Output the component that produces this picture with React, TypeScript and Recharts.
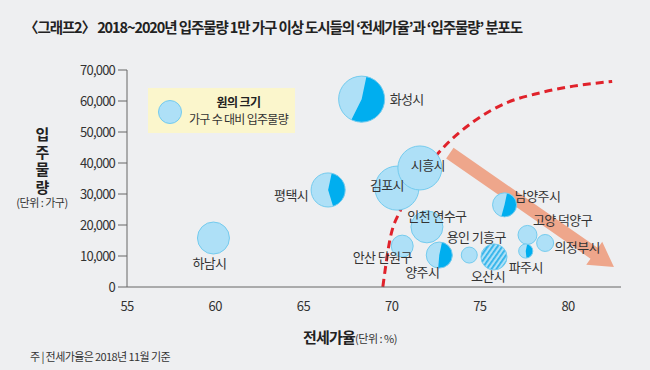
import React from 'react';
import { ComposedChart, Scatter, Line, XAxis, YAxis, ZAxis, ReferenceLine } from 'recharts';

// 도시별 전세가율(%), 입주물량(가구), 가구 수 대비 입주물량(%), 진한 부분 비율
const cities = ['화성시', '평택시', '김포시', '시흥시', '인천 연수구', '안산 단원구', '양주시', '용인 기흥구', '오산시', '남양주시', '고양 덕양구', '파주시', '의정부시', '하남시'];
const jeonseRate = [68.3, 66.4, 70.3, 71.6, 72.0, 70.6, 72.7, 74.4, 75.8, 76.4, 77.7, 77.6, 78.7, 59.9];
const supply = [60600, 31300, 31900, 38400, 19400, 13200, 10300, 10300, 9700, 26500, 16800, 11600, 14200, 15800];
const supplyRatio = [26.5, 14.5, 24.2, 24.2, 12.8, 6.0, 8.5, 3.2, 8.5, 7.2, 4.5, 2.5, 3.6, 12.8];
const darkShare = [0.54, 0.42, 0, 0, 0, 0, 0.48, 0, 0, 0.51, 0, 0.45, 0, 0];
const hatchedCities = ['오산시'];

// 점선 곡선 (전세가율, 입주물량)
const curveX = [69.5, 69.9, 70.5, 71.6, 72.9, 74.6, 76.5, 78.4, 80.3, 82.5];
const curveY = [0, 15200, 24800, 35500, 44800, 53200, 59400, 62600, 64800, 66300];

// 화살표 시작/끝
const arrowX = [73.3, 82.6];
const arrowY = [43200, 6450];

const xTicks = [55, 60, 65, 70, 75, 80];
const yTicks = [0, 10000, 20000, 30000, 40000, 50000, 60000, 70000];

const bubbles = cities.map((name, i) => ({
  name,
  x: jeonseRate[i],
  y: supply[i],
  z: supplyRatio[i],
  share: darkShare[i],
  hatched: hatchedCities.includes(name),
}));
const curve = curveX.map((x, i) => ({ x, y: curveY[i] }));

// label placement relative to bubble centre
const labelPos: Record<string, [number, number, string]> = {
  '화성시': [28, 0, 'start'],
  '평택시': [-20, 5, 'end'],
  '김포시': [-10, -3, 'middle'],
  '시흥시': [8, -3, 'middle'],
  '인천 연수구': [10, -10, 'middle'],
  '안산 단원구': [-20, 11, 'middle'],
  '양주시': [-17, 17, 'middle'],
  '용인 기흥구': [7, -18, 'middle'],
  '오산시': [-6, 20, 'middle'],
  '남양주시': [33, -8, 'middle'],
  '고양 덕양구': [35, -14, 'middle'],
  '파주시': [0, 16, 'middle'],
  '의정부시': [32, 4, 'middle'],
  '하남시': [-4, 25, 'middle'],
};

const LIGHT = '#aee0f7';
const DARK = '#00aeef';
const EDGE = '#74cbee';
const FONT = '"Noto Sans CJK KR", "Noto Sans", sans-serif';

const Bubble = (props: any) => {
  const { cx, cy, width, size, payload } = props;
  const r = width ? width / 2 : Math.sqrt(size / Math.PI);
  const fill = payload.hatched ? 'url(#hatch)' : LIGHT;
  let wedge = null;
  if (payload.share > 0) {
    const a0 = (12 * Math.PI) / 180;
    const a1 = a0 + payload.share * 2 * Math.PI;
    const p0 = [cx + r * Math.sin(a0), cy - r * Math.cos(a0)];
    const p1 = [cx + r * Math.sin(a1), cy - r * Math.cos(a1)];
    const large = payload.share > 0.5 ? 1 : 0;
    wedge = (
      <path d={`M${cx},${cy} L${p0[0]},${p0[1]} A${r},${r} 0 ${large} 1 ${p1[0]},${p1[1]} Z`} fill={DARK} />
    );
  }
  return (
    <g>
      {payload.hatched && (
        <defs>
          <pattern id="hatch" patternUnits="userSpaceOnUse" width="4" height="4" patternTransform="rotate(35)">
            <rect width="4" height="4" fill={LIGHT} />
            <rect width="1.8" height="4" fill="#2fb3ea" />
          </pattern>
        </defs>
      )}
      <circle cx={cx} cy={cy} r={r} fill={fill} />
      {wedge}
      <circle cx={cx} cy={cy} r={r} fill="none" stroke={EDGE} strokeWidth={1} />
    </g>
  );
};

const CityLabel = (props: any) => {
  const { cx, cy, payload } = props;
  const [dx, dy, anchor] = labelPos[payload.name] || [0, 0, 'middle'];
  return (
    <text x={cx + dx} y={cy + dy} dy="0.35em" textAnchor={anchor as any} fontSize={13} fill="#333" fontFamily={FONT} letterSpacing={-0.6}>
      {payload.name}
    </text>
  );
};

const Arrow = (props: any) => {
  const { x1, y1, x2, y2 } = props;
  const dx = x2 - x1;
  const dy = y2 - y1;
  const len = Math.sqrt(dx * dx + dy * dy);
  const ux = dx / len;
  const uy = dy / len;
  const nx = -uy;
  const ny = ux;
  const headLen = 24;
  const bodyW = 6.5;
  const headW = 14;
  const bx = x2 - ux * headLen;
  const by = y2 - uy * headLen;
  const pts = [
    [x1 + nx * bodyW, y1 + ny * bodyW],
    [bx + nx * bodyW, by + ny * bodyW],
    [bx + nx * headW, by + ny * headW],
    [x2, y2],
    [bx - nx * headW, by - ny * headW],
    [bx - nx * bodyW, by - ny * bodyW],
    [x1 - nx * bodyW, y1 - ny * bodyW],
  ];
  return <polygon points={pts.map((p) => p.join(',')).join(' ')} fill="#eea68b" />;
};

export default function App() {
  return (
    <div style={{ position: 'absolute', left: 0, top: 0, width: 650, height: 370, background: '#eeeff1', fontFamily: FONT, color: '#222', overflow: 'hidden' }}>
      <div style={{ position: 'absolute', left: 24, top: 16, fontSize: 14.5, fontWeight: 700, letterSpacing: -1.1, whiteSpace: 'nowrap' }}>
        〈그래프2〉 2018~2020년 입주물량 1만 가구 이상 도시들의 ‘전세가율’과 ‘입주물량’ 분포도
      </div>
      <ComposedChart width={650} height={370} margin={{ top: 70, right: 29, bottom: 53, left: 67 }}>
        <XAxis
          type="number"
          dataKey="x"
          domain={[55, 83]}
          ticks={xTicks}
          height={30}
          axisLine={{ stroke: '#666' }}
          tickLine={false}
          tickSize={0}
          tickMargin={15}
          tick={{ fontSize: 13, fill: '#333', fontFamily: FONT, letterSpacing: -0.6 }}
        />
        <YAxis
          type="number"
          dataKey="y"
          domain={[0, 70000]}
          ticks={yTicks}
          width={60}
          axisLine={{ stroke: '#666' }}
          tickLine={{ stroke: '#666' }}
          tickSize={9}
          tickMargin={3}
          tickFormatter={(v: number) => v.toLocaleString('en-US')}
          tick={{ fontSize: 13, fill: '#333', fontFamily: FONT, letterSpacing: -0.8 }}
        />
        <ZAxis type="number" dataKey="z" domain={[0, 30]} range={[0, 1885]} />
        <ReferenceLine
          segment={[
            { x: arrowX[0], y: arrowY[0] },
            { x: arrowX[1], y: arrowY[1] },
          ]}
          shape={Arrow}
        />
        <Scatter data={bubbles} shape={Bubble} isAnimationActive={false} />
        <Line
          data={curve}
          dataKey="y"
          type="monotone"
          stroke="#e0222b"
          strokeWidth={3}
          strokeDasharray="8 5"
          dot={false}
          activeDot={false}
          isAnimationActive={false}
        />
        <Scatter data={bubbles} shape={CityLabel} isAnimationActive={false} />
      </ComposedChart>

      {/* legend */}
      <div style={{ position: 'absolute', left: 148, top: 88, width: 147, height: 45, background: '#fbf6cc' }}>
        <div style={{ position: 'absolute', left: 10, top: 12, width: 22, height: 22, borderRadius: '50%', background: LIGHT, border: `1px solid ${EDGE}` }} />
        <div style={{ position: 'absolute', left: 38, width: 105, top: 6, textAlign: 'center', fontSize: 12, fontWeight: 700, letterSpacing: -0.6, lineHeight: '16px' }}>원의 크기</div>
        <div style={{ position: 'absolute', left: 38, width: 105, top: 23, textAlign: 'center', fontSize: 12, letterSpacing: -0.7, lineHeight: '16px', color: '#333' }}>가구 수 대비 입주물량</div>
      </div>

      {/* y axis title */}
      <div style={{ position: 'absolute', left: 31, top: 127, width: 22, fontSize: 15, fontWeight: 700, writingMode: 'vertical-rl', textOrientation: 'upright', letterSpacing: 2.5, lineHeight: '22px' }}>
        입주물량
      </div>
      <div style={{ position: 'absolute', left: 2, top: 194, width: 80, textAlign: 'center', fontSize: 11, letterSpacing: -0.5, color: '#333' }}>(단위 : 가구)</div>

      {/* x axis title */}
      <div style={{ position: 'absolute', left: 250, width: 200, top: 324, textAlign: 'center', whiteSpace: 'nowrap' }}>
        <span style={{ fontSize: 15, fontWeight: 700, letterSpacing: -0.8 }}>전세가율</span>
        <span style={{ fontSize: 11, letterSpacing: -0.5, color: '#333' }}>(단위 : %)</span>
      </div>

      <div style={{ position: 'absolute', left: 30, top: 348, fontSize: 11, letterSpacing: -0.6, color: '#333', whiteSpace: 'nowrap' }}>
        주 | 전세가율은 2018년 11월 기준
      </div>
    </div>
  );
}
